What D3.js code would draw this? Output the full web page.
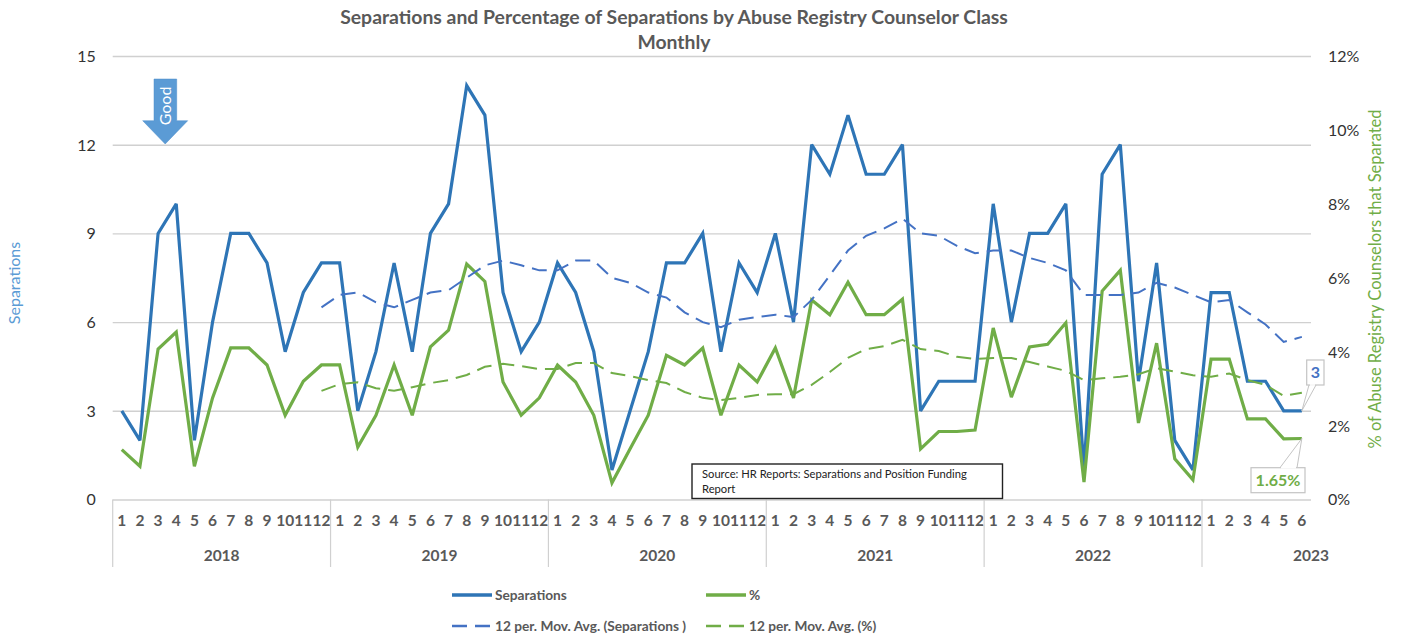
<!DOCTYPE html>
<html>
<head>
<meta charset="utf-8">
<script src="https://cdn.jsdelivr.net/npm/d3@7"></script>
<style>
html,body{margin:0;padding:0;background:#fff;}
svg{display:block;}
text{font-family:Lato,"Open Sans",sans-serif;}
</style>
</head>
<body>
<svg id="chart" width="1401" height="637"></svg>
<script>
const years = [2018,2019,2020,2021,2022,2023];
const monthsInYear = [12,12,12,12,12,6];
const separations = [3,2,9,10,2,6,9,9,8,5,7,8, 8,3,5,8,5,9,10,14,13,7,5,6, 8,7,5,1,3,5,8,8,9,5,8,7, 9,6,12,11,13,11,11,12,3,4,4,4, 10,6,9,9,10,1,11,12,4,8,2,1, 7,7,4,4,3,3];
const percent = [1.35,0.9,4.07,4.53,0.9,2.75,4.1,4.1,3.64,2.28,3.2,3.64, 3.64,1.42,2.28,3.64,2.28,4.13,4.58,6.37,5.9,3.18,2.28,2.75, 3.64,3.18,2.28,0.45,1.37,2.28,3.9,3.64,4.1,2.28,3.64,3.18, 4.1,2.75,5.4,5.0,5.88,5.0,5.0,5.42,1.37,1.84,1.84,1.88, 4.64,2.77,4.13,4.2,4.78,0.47,5.64,6.2,2.07,4.23,1.1,0.53, 3.8,3.8,2.18,2.18,1.64,1.65];
const sepAvg = [null,null,null,null,null,null,null,null,null,null,null,6.5, 6.92,7.0,6.67,6.5,6.75,7.0,7.08,7.5,7.92,8.08,7.92,7.75, 7.75,8.08,8.08,7.5,7.33,7.0,6.83,6.33,6.0,5.83,6.08,6.17, 6.25,6.17,6.75,7.58,8.42,8.92,9.17,9.5,9.0,8.92,8.58,8.33, 8.42,8.42,8.17,8.0,7.75,6.92,6.92,6.92,7.0,7.33,7.17,6.92, 6.67,6.75,6.33,5.92,5.33,5.5];
const pctAvg = [null,null,null,null,null,null,null,null,null,null,null,2.94, 3.12,3.17,3.01,2.94,3.04,3.15,3.23,3.37,3.59,3.67,3.61,3.53, 3.53,3.69,3.69,3.42,3.34,3.23,3.15,2.91,2.75,2.69,2.75,2.83, 2.85,2.85,3.1,3.45,3.83,4.07,4.15,4.32,4.07,4.02,3.86,3.8, 3.83,3.83,3.72,3.6,3.48,3.23,3.28,3.32,3.39,3.55,3.46,3.36, 3.32,3.41,3.23,3.1,2.8,2.89];
const leftTicks = [0,3,6,9,12,15];
const rightTicks = [0,2,4,6,8,10,12];
const titleLines = ["Separations and Percentage of Separations by Abuse Registry Counselor Class","Monthly"];
const leftTitle = "Separations";
const rightTitle = "% of Abuse Registry Counselors that Separated";
const sourceLines = ["Source: HR Reports: Separations and Position Funding","Report"];
const goodLabel = "Good";
const legendRows = [
  {name:"Separations", col:0,row:0,color:"#2e75b6",dash:null,w:3},
  {name:"%", col:1,row:0,color:"#70ad47",dash:null,w:3},
  {name:"12 per. Mov. Avg. (Separations )", col:0,row:1,color:"#4472c4",dash:"15 8",w:2},
  {name:"12 per. Mov. Avg. (%)", col:1,row:1,color:"#70ad47",dash:"15 8",w:2}
];

const L=112.7,R=1311,T=56,B=499.5;
const svg=d3.select("#chart");
const idx=d3.range(separations.length);
const x=d3.scaleBand().domain(idx).range([L,L+66*18.155]);
const cx=i=>x(i)+x.bandwidth()/2;
const yL=d3.scaleLinear().domain([0,15]).range([B,T]);
const yR=d3.scaleLinear().domain([0,12]).range([B,T]);
const grey="#d0d0d0";

// left axis with gridlines
const gl=svg.append("g").attr("transform",`translate(${L},0)`)
  .call(d3.axisLeft(yL).tickValues(leftTicks).tickSize(-(R-L)).tickPadding(17));
gl.select(".domain").remove();
gl.selectAll("line").attr("stroke",grey).attr("stroke-width",1.4);
gl.selectAll("text").attr("font-size",16).attr("fill","#333").attr("font-family","Lato").attr("dy","0.34em");

// right axis
const gr=svg.append("g").attr("transform",`translate(${R},0)`)
  .call(d3.axisRight(yR).tickValues(rightTicks).tickSize(0).tickPadding(17).tickFormat(d=>d+"%"));
gr.select(".domain").remove();
gr.selectAll("text").attr("font-size",16).attr("fill","#333").attr("font-family","Lato").attr("dy","0.34em");

// month axis
const gx=svg.append("g").attr("transform",`translate(0,${B})`)
  .call(d3.axisBottom(x).tickSize(0).tickPadding(15).tickFormat((d)=>{
    let i=d; for(const m of monthsInYear){ if(i<m) return i+1; i-=m; } return "";
  }));
gx.select(".domain").remove();
gx.selectAll("text").attr("font-size",15.5).attr("font-weight",700).attr("fill","#595959").attr("font-family","Lato");

// year dividers and labels
let start=0;
years.forEach((yr,k)=>{
  const x0=x(start);
  svg.append("line").attr("x1",x0).attr("x2",x0).attr("y1",B).attr("y2",567).attr("stroke",grey).attr("stroke-width",1.2);
  svg.append("text").attr("x",x0+6*x.step()).attr("y",561).attr("text-anchor","middle")
    .attr("font-size",15.5).attr("font-weight",700).attr("fill","#595959").text(yr);
  start+=monthsInYear[k];
});

// series
const lineL=d3.line().defined(d=>d!==null).x((d,i)=>cx(i)).y(d=>yL(d));
const lineR=d3.line().defined(d=>d!==null).x((d,i)=>cx(i)).y(d=>yR(d));
svg.append("path").datum(separations).attr("d",lineL).attr("fill","none").attr("stroke","#2e75b6").attr("stroke-width",3.2).attr("stroke-linejoin","miter").attr("stroke-miterlimit",3);
svg.append("path").datum(percent).attr("d",lineR).attr("fill","none").attr("stroke","#70ad47").attr("stroke-width",3.2).attr("stroke-linejoin","miter").attr("stroke-miterlimit",3);
svg.append("path").datum(sepAvg).attr("d",lineL).attr("fill","none").attr("stroke","#4472c4").attr("stroke-width",2).attr("stroke-dasharray","15 8");
svg.append("path").datum(pctAvg).attr("d",lineR).attr("fill","none").attr("stroke","#70ad47").attr("stroke-width",2).attr("stroke-dasharray","15 8");

// titles
titleLines.forEach((t,i)=>svg.append("text").attr("x",674).attr("y",24+i*25).attr("text-anchor","middle")
  .attr("font-size",19.4).attr("font-weight",700).attr("fill","#595959").text(t));
svg.append("text").attr("transform","translate(20,283) rotate(-90)").attr("text-anchor","middle")
  .attr("font-size",16).attr("fill","#5b9bd5").text(leftTitle);
svg.append("text").attr("transform","translate(1380.5,279) rotate(-90)").attr("text-anchor","middle")
  .attr("font-size",16.5).attr("fill","#70ad47").text(rightTitle);

// Good arrow
svg.append("path").attr("d","M154 79H176.7V120.7H187.7L165.2 144L142.7 120.7H154Z").attr("fill","#5b9bd5").attr("stroke","#4f8fca").attr("stroke-width",0.5);
svg.append("text").attr("transform","translate(171,106) rotate(-90)").attr("text-anchor","middle")
  .attr("font-size",16).attr("fill","#fff").text(goodLabel);

// source box
svg.append("rect").attr("x",692).attr("y",464).attr("width",310.5).attr("height",34.5).attr("fill","#fff").attr("stroke","#222").attr("stroke-width",1.4);
sourceLines.forEach((t,i)=>svg.append("text").attr("x",702).attr("y",478+i*15).attr("font-size",11.2).attr("fill","#222").text(t));

// callouts
const last=separations.length-1;
function callout(bx,by,bw,bh,px,py,w1,w2,txt,color){
  const edge=py>by?by+bh:by;
  svg.append("path").attr("d",`M${w1} ${edge}L${px} ${py}L${w2} ${edge}`).attr("fill","#fff").attr("stroke","#c4c4c4").attr("stroke-width",1);
  svg.append("rect").attr("x",bx).attr("y",by).attr("width",bw).attr("height",bh).attr("fill","#fff").attr("stroke","#c4c4c4").attr("stroke-width",1.2);
  svg.append("line").attr("x1",w1+1).attr("x2",w2-1).attr("y1",edge).attr("y2",edge).attr("stroke","#fff").attr("stroke-width",1.6);
  svg.append("text").attr("x",bx+bw/2).attr("y",by+bh/2+5.5).attr("text-anchor","middle").attr("font-size",16).attr("font-weight",700).attr("fill",color).text(txt);
}
callout(1306.7,360,17.3,25,cx(last),yL(separations[last]),1309,1316,separations[last],"#4472c4");
callout(1251,467.7,54,25,cx(last),yR(percent[last]),1280,1297,percent[last].toFixed(2)+"%","#70ad47");

// legend
const colX=[452,706], rowY=[595,626];
legendRows.forEach(d=>{
  const x0=colX[d.col], y0=rowY[d.row];
  svg.append("line").attr("x1",x0).attr("x2",x0+40).attr("y1",y0).attr("y2",y0).attr("stroke",d.color).attr("stroke-width",d.w+0.4).attr("stroke-dasharray",d.dash);
  svg.append("text").attr("x",x0+43).attr("y",y0+4.5).attr("font-size",13.7).attr("font-weight",700).attr("fill","#595959").text(d.name);
});
</script>
</body>
</html>
